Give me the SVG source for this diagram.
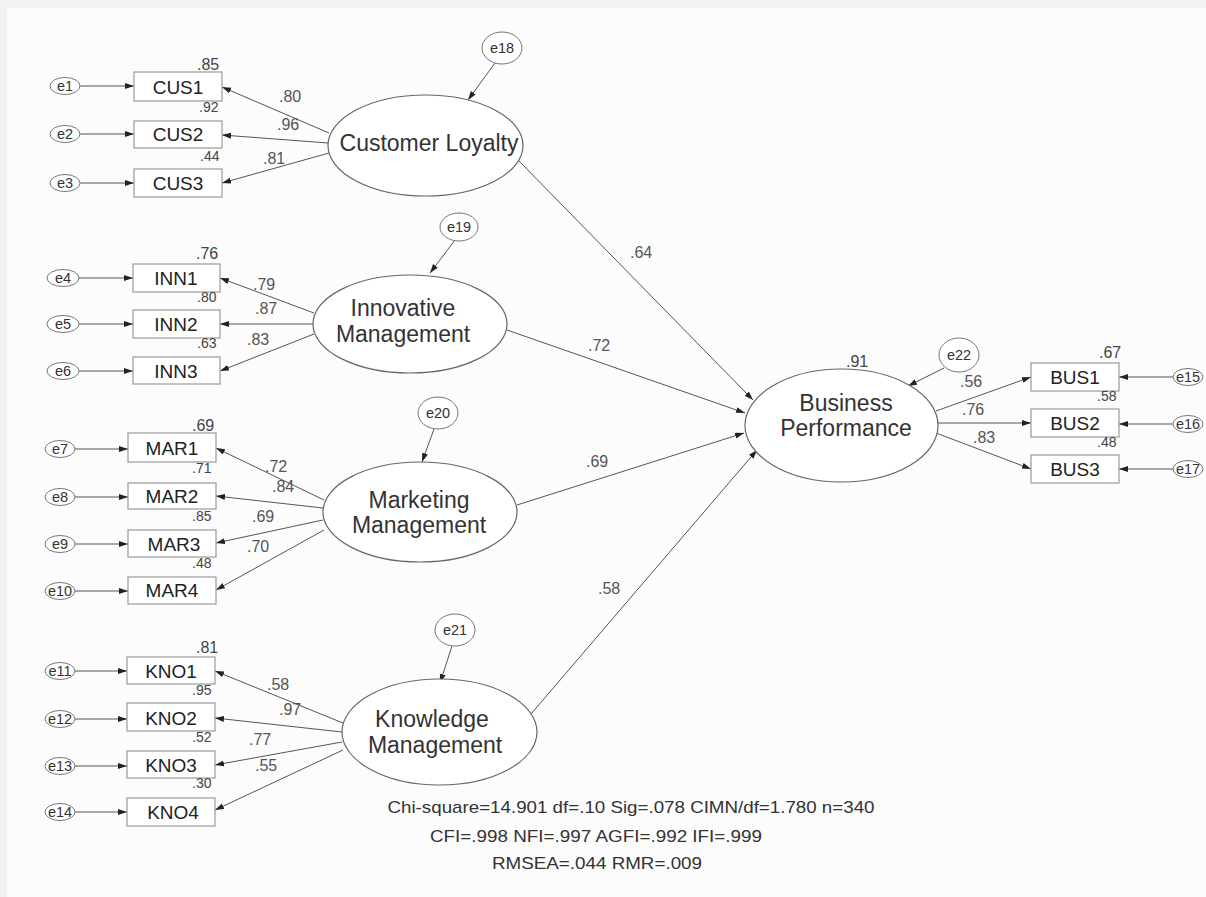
<svg xmlns="http://www.w3.org/2000/svg" width="1206" height="897" viewBox="0 0 1206 897">
<defs>
<marker id="ah" markerUnits="userSpaceOnUse" markerWidth="10" markerHeight="8" refX="9" refY="3" orient="auto">
<path d="M0,0 L9,3 L0,6 z" fill="#222"/>
</marker>
<style>
.bg{fill:#fcfcfc}
.band{fill:#f1f2f4}
.c{stroke:#555;stroke-width:1;fill:none;marker-end:url(#ah)}
.box{fill:#fff;stroke:#999;stroke-width:1.2}
.lat{fill:#fff;stroke:#666;stroke-width:1.2}
.err{fill:#fff;stroke:#777;stroke-width:1}
.t{font-family:"Liberation Sans",Arial,sans-serif;fill:#333}
.bl{font-size:19px;text-anchor:middle;fill:#222}
.ll{font-size:23px;text-anchor:middle;fill:#333}
.el{font-size:14.5px;text-anchor:middle;fill:#333}
.r{font-size:14px;fill:#444}
.rb{font-size:16px;fill:#444}
.p{font-size:16px;fill:#555}
.fit{font-size:17px;text-anchor:middle;fill:#333}
</style>
</defs>
<rect class="bg" x="0" y="0" width="1206" height="897"/>
<rect class="band" x="0" y="0" width="1206" height="8"/>
<rect class="band" x="0" y="0" width="7" height="897"/>

<g id="connectors">
<line class="c" x1="80" y1="86" x2="134" y2="86"/>
<line class="c" x1="80" y1="134" x2="134" y2="134"/>
<line class="c" x1="80" y1="183" x2="134" y2="183"/>
<line class="c" x1="79" y1="278" x2="133" y2="278"/>
<line class="c" x1="79" y1="324" x2="133" y2="324"/>
<line class="c" x1="79" y1="371" x2="133" y2="371"/>
<line class="c" x1="75" y1="449" x2="128" y2="449"/>
<line class="c" x1="75" y1="497" x2="128" y2="497"/>
<line class="c" x1="75" y1="544" x2="128" y2="544"/>
<line class="c" x1="75" y1="591" x2="128" y2="591"/>
<line class="c" x1="75" y1="671" x2="127" y2="671"/>
<line class="c" x1="75" y1="719" x2="127" y2="719"/>
<line class="c" x1="75" y1="766" x2="127" y2="766"/>
<line class="c" x1="75" y1="812" x2="127" y2="812"/>
<line class="c" x1="1173" y1="377" x2="1119" y2="377"/>
<line class="c" x1="1173" y1="424" x2="1119" y2="424"/>
<line class="c" x1="1173" y1="469" x2="1119" y2="469"/>
<line class="c" x1="329" y1="133" x2="222" y2="87"/>
<line class="c" x1="328" y1="143" x2="222" y2="135"/>
<line class="c" x1="329" y1="153" x2="222" y2="183"/>
<line class="c" x1="314" y1="313" x2="220" y2="278"/>
<line class="c" x1="313" y1="324" x2="220" y2="324"/>
<line class="c" x1="314" y1="334" x2="220" y2="371"/>
<line class="c" x1="324" y1="500" x2="216" y2="448"/>
<line class="c" x1="323" y1="508" x2="216" y2="496"/>
<line class="c" x1="323" y1="520" x2="216" y2="543"/>
<line class="c" x1="324" y1="530" x2="216" y2="590"/>
<line class="c" x1="343" y1="723" x2="215" y2="671"/>
<line class="c" x1="342" y1="732" x2="215" y2="718"/>
<line class="c" x1="342" y1="742" x2="215" y2="765"/>
<line class="c" x1="343" y1="750" x2="215" y2="810"/>
<line class="c" x1="936" y1="411" x2="1031" y2="377"/>
<line class="c" x1="938" y1="423" x2="1031" y2="423"/>
<line class="c" x1="936" y1="433" x2="1031" y2="469"/>
<line class="c" x1="519" y1="161" x2="753" y2="400"/>
<line class="c" x1="507" y1="330" x2="745" y2="413"/>
<line class="c" x1="517" y1="505" x2="744" y2="433"/>
<line class="c" x1="531" y1="714" x2="757" y2="450"/>
<line class="c" x1="495" y1="63" x2="468" y2="100"/>
<line class="c" x1="455" y1="240" x2="430" y2="273"/>
<line class="c" x1="434" y1="429" x2="422" y2="462"/>
<line class="c" x1="452" y1="646" x2="440" y2="683"/>
<line class="c" x1="944" y1="368" x2="908" y2="386"/>
</g>

<g id="e1"><ellipse class="err" cx="65" cy="86" rx="15" ry="8.5"/><text class="t el" x="65" y="91">e1</text></g>
<g id="e2"><ellipse class="err" cx="65" cy="134" rx="15" ry="8.5"/><text class="t el" x="65" y="139">e2</text></g>
<g id="e3"><ellipse class="err" cx="65" cy="183" rx="15" ry="8.5"/><text class="t el" x="65" y="188">e3</text></g>
<g id="e4"><ellipse class="err" cx="63" cy="278" rx="16" ry="8.5"/><text class="t el" x="63" y="283">e4</text></g>
<g id="e5"><ellipse class="err" cx="63" cy="324" rx="16" ry="8.5"/><text class="t el" x="63" y="329">e5</text></g>
<g id="e6"><ellipse class="err" cx="63" cy="371" rx="16" ry="8.5"/><text class="t el" x="63" y="376">e6</text></g>
<g id="e7"><ellipse class="err" cx="60" cy="449" rx="15" ry="8.5"/><text class="t el" x="60" y="454">e7</text></g>
<g id="e8"><ellipse class="err" cx="60" cy="497" rx="15" ry="8.5"/><text class="t el" x="60" y="502">e8</text></g>
<g id="e9"><ellipse class="err" cx="60" cy="544" rx="15" ry="8.5"/><text class="t el" x="60" y="549">e9</text></g>
<g id="e10"><ellipse class="err" cx="60" cy="591" rx="15" ry="8.5"/><text class="t el" x="60" y="596">e10</text></g>
<g id="e11"><ellipse class="err" cx="60" cy="671" rx="15" ry="8.5"/><text class="t el" x="60" y="676">e11</text></g>
<g id="e12"><ellipse class="err" cx="60" cy="719" rx="15" ry="8.5"/><text class="t el" x="60" y="724">e12</text></g>
<g id="e13"><ellipse class="err" cx="60" cy="766" rx="15" ry="8.5"/><text class="t el" x="60" y="771">e13</text></g>
<g id="e14"><ellipse class="err" cx="60" cy="812" rx="15" ry="8.5"/><text class="t el" x="60" y="817">e14</text></g>
<g id="e15"><ellipse class="err" cx="1188" cy="377" rx="15" ry="8.5"/><text class="t el" x="1188" y="382">e15</text></g>
<g id="e16"><ellipse class="err" cx="1188" cy="424" rx="15" ry="8.5"/><text class="t el" x="1188" y="429">e16</text></g>
<g id="e17"><ellipse class="err" cx="1188" cy="469" rx="15" ry="8.5"/><text class="t el" x="1188" y="474">e17</text></g>
<g id="e18"><ellipse class="err" cx="502" cy="48" rx="20" ry="16"/><text class="t el" x="502" y="53">e18</text></g>
<g id="e19"><ellipse class="err" cx="459" cy="227" rx="19" ry="14"/><text class="t el" x="459" y="232">e19</text></g>
<g id="e20"><ellipse class="err" cx="438" cy="413" rx="20" ry="16"/><text class="t el" x="438" y="418">e20</text></g>
<g id="e21"><ellipse class="err" cx="455" cy="630" rx="20" ry="16"/><text class="t el" x="455" y="635">e21</text></g>
<g id="e22"><ellipse class="err" cx="959" cy="355" rx="20" ry="17"/><text class="t el" x="959" y="360">e22</text></g>

<g id="CUS1"><rect class="box" x="134" y="72" width="88" height="29"/><text class="t bl" x="178" y="94">CUS1</text></g>
<g id="CUS2"><rect class="box" x="134" y="121" width="88" height="27"/><text class="t bl" x="178" y="141">CUS2</text></g>
<g id="CUS3"><rect class="box" x="134" y="169" width="88" height="28"/><text class="t bl" x="178" y="190">CUS3</text></g>
<g id="INN1"><rect class="box" x="133" y="264" width="87" height="28"/><text class="t bl" x="176" y="285">INN1</text></g>
<g id="INN2"><rect class="box" x="133" y="310" width="87" height="28"/><text class="t bl" x="176" y="331">INN2</text></g>
<g id="INN3"><rect class="box" x="133" y="357" width="87" height="27"/><text class="t bl" x="176" y="378">INN3</text></g>
<g id="MAR1"><rect class="box" x="128" y="433" width="88" height="29"/><text class="t bl" x="172" y="455">MAR1</text></g>
<g id="MAR2"><rect class="box" x="128" y="483" width="88" height="26"/><text class="t bl" x="172" y="503">MAR2</text></g>
<g id="MAR3"><rect class="box" x="128" y="530" width="88" height="27"/><text class="t bl" x="174" y="551">MAR3</text></g>
<g id="MAR4"><rect class="box" x="128" y="577" width="88" height="27"/><text class="t bl" x="172" y="597">MAR4</text></g>
<g id="KNO1"><rect class="box" x="127" y="657" width="88" height="27"/><text class="t bl" x="171" y="678">KNO1</text></g>
<g id="KNO2"><rect class="box" x="127" y="703" width="88" height="28"/><text class="t bl" x="171" y="725">KNO2</text></g>
<g id="KNO3"><rect class="box" x="127" y="751" width="88" height="27"/><text class="t bl" x="171" y="772">KNO3</text></g>
<g id="KNO4"><rect class="box" x="127" y="798" width="88" height="28"/><text class="t bl" x="173" y="819">KNO4</text></g>
<g id="BUS1"><rect class="box" x="1031" y="363" width="88" height="28"/><text class="t bl" x="1075" y="384">BUS1</text></g>
<g id="BUS2"><rect class="box" x="1031" y="409" width="88" height="28"/><text class="t bl" x="1075" y="430">BUS2</text></g>
<g id="BUS3"><rect class="box" x="1031" y="455" width="88" height="28"/><text class="t bl" x="1075" y="476">BUS3</text></g>

<g id="CustomerLoyalty"><ellipse class="lat" cx="425.5" cy="145.5" rx="97.5" ry="50.5"/><text class="t ll" x="429" y="151">Customer Loyalty</text></g>
<g id="InnovativeManagement"><ellipse class="lat" cx="410" cy="324" rx="97" ry="49"/><text class="t ll" x="403" y="316">Innovative</text><text class="t ll" x="403" y="342">Management</text></g>
<g id="MarketingManagement"><ellipse class="lat" cx="420" cy="512" rx="97" ry="50"/><text class="t ll" x="419" y="508">Marketing</text><text class="t ll" x="419" y="533">Management</text></g>
<g id="KnowledgeManagement"><ellipse class="lat" cx="439.5" cy="732" rx="97.5" ry="53"/><text class="t ll" x="432" y="727">Knowledge</text><text class="t ll" x="435" y="753">Management</text></g>
<g id="BusinessPerformance"><ellipse class="lat" cx="841.5" cy="425.5" rx="96.5" ry="56.5"/><text class="t ll" x="846" y="411">Business</text><text class="t ll" x="846" y="436">Performance</text></g>

<g id="labels">
<text class="t rb" x="197" y="70">.85</text>
<text class="t r" x="199" y="112">.92</text>
<text class="t r" x="200" y="161">.44</text>
<text class="t rb" x="196" y="259">.76</text>
<text class="t r" x="197" y="302">.80</text>
<text class="t r" x="197" y="348">.63</text>
<text class="t rb" x="192" y="431">.69</text>
<text class="t r" x="192" y="473">.71</text>
<text class="t r" x="192" y="521">.85</text>
<text class="t r" x="192" y="568">.48</text>
<text class="t rb" x="196" y="653">.81</text>
<text class="t r" x="192" y="695">.95</text>
<text class="t r" x="192" y="742">.52</text>
<text class="t r" x="192" y="788">.30</text>
<text class="t rb" x="1099" y="358">.67</text>
<text class="t r" x="1097" y="401">.58</text>
<text class="t r" x="1097" y="447">.48</text>
<text class="t rb" x="846" y="367">.91</text>
<text class="t p" x="279" y="102">.80</text>
<text class="t p" x="277" y="130">.96</text>
<text class="t p" x="263" y="164">.81</text>
<text class="t p" x="253" y="290">.79</text>
<text class="t p" x="255" y="314">.87</text>
<text class="t p" x="247" y="345">.83</text>
<text class="t p" x="265" y="472">.72</text>
<text class="t p" x="272" y="492">.84</text>
<text class="t p" x="252" y="522">.69</text>
<text class="t p" x="247" y="552">.70</text>
<text class="t p" x="267" y="690">.58</text>
<text class="t p" x="279" y="715">.97</text>
<text class="t p" x="249" y="745">.77</text>
<text class="t p" x="255" y="771">.55</text>
<text class="t p" x="960" y="387">.56</text>
<text class="t p" x="962" y="415">.76</text>
<text class="t p" x="973" y="443">.83</text>
<text class="t p" x="630" y="258">.64</text>
<text class="t p" x="588" y="351">.72</text>
<text class="t p" x="586" y="467">.69</text>
<text class="t p" x="598" y="594">.58</text>
</g>

<g id="fit">
<text class="t fit" x="631" y="813" textLength="487" lengthAdjust="spacingAndGlyphs">Chi-square=14.901 df=.10 Sig=.078 CIMN/df=1.780 n=340</text>
<text class="t fit" x="596" y="842" textLength="332" lengthAdjust="spacingAndGlyphs">CFI=.998 NFI=.997 AGFI=.992 IFI=.999</text>
<text class="t fit" x="597" y="869" textLength="210" lengthAdjust="spacingAndGlyphs">RMSEA=.044 RMR=.009</text>
</g>
</svg>
